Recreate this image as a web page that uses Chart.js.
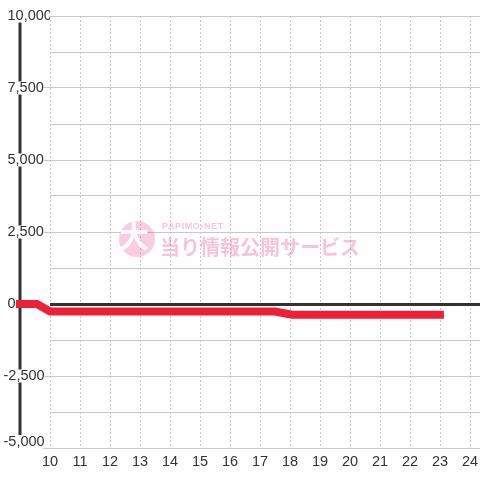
<!DOCTYPE html>
<html><head><meta charset="utf-8">
<script src="https://cdn.jsdelivr.net/npm/chart.js@4"></script>
<style>html,body{margin:0;padding:0;background:#fdfefd;}</style>
</head><body>
<canvas id="c" width="480" height="480"></canvas>
<script>
// ---- data ----
const hours = [8.867, 9.567, 10, 17.5, 18.07, 23.13];
const balance = [0, 0, -260, -260, -375, -375];
const axisLineX = [9, 9];
const axisLineY = [10000, -5000];
const xTickLabels = [10, 11, 12, 13, 14, 15, 16, 17, 18, 19, 20, 21, 22, 23, 24];
const xMin = 10, xMax = 24.333;
const yMin = -5000, yMax = 10000, yStep = 1250, yLabelStep = 2500;
const watermarkSmall = 'PAPIMO-NET';
const watermarkBig = '当り情報公開サービス';
const watermarkBadge = '大';

const BG = '#fdfefd';
const GRID = '#c8c8c8';
const TEXT = '#333333';
const fmt = v => (v < 0 ? '' : ' ') + v.toLocaleString('en-US');

const watermark = {
  id: 'wm',
  beforeDatasetsDraw(chart) {
    const c = chart.ctx;
    c.save();
    c.fillStyle = 'rgba(240,60,140,0.25)';
    c.beginPath();
    c.arc(137, 239, 18, 0, Math.PI * 2);
    c.fill();
    c.fillStyle = 'rgba(255,255,255,0.92)';
    c.font = 'bold 30px "Noto Sans CJK JP"';
    c.textAlign = 'center';
    c.textBaseline = 'middle';
    c.fillText(watermarkBadge, 134, 236);
    c.fillStyle = 'rgba(240,60,140,0.3)';
    c.textAlign = 'left';
    c.font = 'bold 20px "Noto Sans CJK JP"';
    c.fillText(watermarkBig, 160, 247);
    c.font = 'bold 9px "Liberation Sans"';
    try { c.letterSpacing = '0.6px'; } catch (e) {}
    c.fillText(watermarkSmall, 162, 227);
    c.restore();
  }
};

// lift the bottom y label so it sits inside the canvas like the original
const liftBottomLabel = {
  id: 'lift',
  beforeDraw(chart) {
    const s = chart.scales.y;
    const items = s.getLabelItems();
    items.forEach(it => {
      if (it.label === fmt(yMin) && !it._lifted) {
        it.options.translation[1] -= 6.5;
        it._lifted = true;
      }
    });
  }
};

new Chart(document.getElementById('c'), {
  type: 'line',
  data: {
    datasets: [
      {
        data: hours.map((h, i) => ({ x: h, y: balance[i] })),
        borderColor: '#ee2038', borderWidth: 8, pointRadius: 0, tension: 0,
        clip: false, fill: false
      },
      {
        data: axisLineX.map((x, i) => ({ x: x, y: axisLineY[i] })),
        borderColor: '#333333', borderWidth: 3, pointRadius: 0, tension: 0,
        clip: false, fill: false
      }
    ]
  },
  options: {
    responsive: false, animation: false, devicePixelRatio: 1,
    layout: { padding: { left: 3.5, top: 16, right: 0, bottom: 3.2 } },
    plugins: { legend: { display: false }, tooltip: { enabled: false } },
    scales: {
      x: {
        type: 'linear', bounds: 'data',
        afterDataLimits(s) { s.min = xMin; s.max = xMax; },
        afterBuildTicks(s) {
          const seen = new Set();
          s.ticks = s.ticks.filter(t => {
            if (!xTickLabels.includes(t.value) || seen.has(t.value)) return false;
            seen.add(t.value); return true;
          });
        },
        afterFit(s) { s.paddingRight = 0; s.paddingLeft = 0; },
        ticks: {
          stepSize: 1, autoSkip: false, maxRotation: 0, minRotation: 0, padding: 5.7,
          color: TEXT, font: { family: 'Liberation Sans', size: 14.5 },
          callback: v => String(v)
        },
        grid: { color: GRID, lineWidth: 1, drawTicks: false },
        border: { display: false, dash: [2, 2] }
      },
      y: {
        type: 'linear', min: yMin, max: yMax,
        afterFit(s) { s.width = 46.5; },
        ticks: {
          stepSize: yStep, z: 1, crossAlign: 'far', padding: 0, autoSkip: false,
          color: TEXT, font: { family: 'Liberation Sans', size: 14.5, lineHeight: 0.9 },
          callback: v => (v % yLabelStep !== 0 ? '' : fmt(v)),
          showLabelBackdrop: c => !!(c.tick && c.tick.value % yLabelStep === 0),
          backdropColor: BG,
          backdropPadding: 0
        },
        grid: {
          color: c => (c.tick && c.tick.value === 0) ? '#333333' : GRID,
          lineWidth: c => (c.tick && c.tick.value === 0) ? 3 : 1,
          tickLength: 7, tickWidth: 1,
          tickColor: c => (c.tick && c.tick.value % yLabelStep === 0 && c.tick.value !== 0) ? GRID : 'rgba(0,0,0,0)'
        },
        border: { display: false }
      }
    }
  },
  plugins: [watermark, liftBottomLabel]
});
</script>
</body></html>
